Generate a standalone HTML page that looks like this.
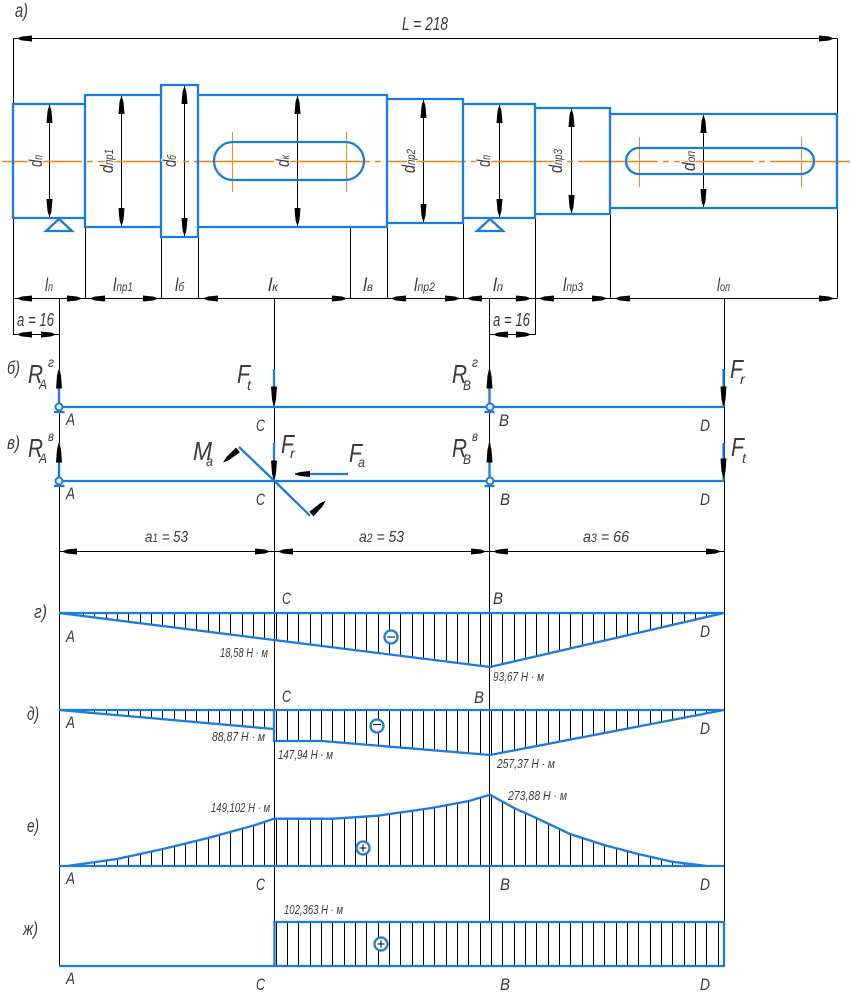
<!DOCTYPE html>
<html><head><meta charset="utf-8"><style>
html,body{margin:0;padding:0;background:#fff}
svg{display:block}
text{font-family:"Liberation Sans","DejaVu Sans",sans-serif;font-style:italic;fill:#3a3a3a}
.b{fill:none;stroke:#1a7be0;stroke-width:2.300}
.k{fill:none;stroke:#000;stroke-width:1}
.o{fill:none;stroke:#f08c1c;stroke-width:1}
.r text,text.r{paint-order:stroke;stroke:#fff;stroke-width:2.500px}
</style></head><body>
<svg xmlns="http://www.w3.org/2000/svg" width="851" height="997" viewBox="0 0 851 997">
<defs>
<path id="a" d="M0 0L3 -1.300L5 -2L15 -3V3L5 2L3 1.300Z" fill="#000"/>
<path id="h" d="M72.500 600V980M83.500 600V980M94.500 600V980M106.500 600V980M117.500 600V980M128.500 600V980M140.500 600V980M151.500 600V980M162.500 600V980M174.500 600V980M185.500 600V980M196.500 600V980M208.500 600V980M219.500 600V980M230.500 600V980M242.500 600V980M253.500 600V980M264.500 600V980M276.500 600V980M287.500 600V980M298.500 600V980M310.500 600V980M321.500 600V980M332.500 600V980M344.500 600V980M355.500 600V980M366.500 600V980M378.500 600V980M389.500 600V980M400.500 600V980M412.500 600V980M423.500 600V980M434.500 600V980M446.500 600V980M457.500 600V980M468.500 600V980M480.500 600V980M491.500 600V980M502.500 600V980M514.500 600V980M525.500 600V980M536.500 600V980M548.500 600V980M559.500 600V980M570.500 600V980M582.500 600V980M593.500 600V980M604.500 600V980M616.500 600V980M627.500 600V980M638.500 600V980M650.500 600V980M661.500 600V980M672.500 600V980M684.500 600V980M695.500 600V980M706.500 600V980M718.500 600V980" stroke="#000" stroke-width="1" fill="none"/>
<clipPath id="c1"><polygon points="59,613 724,613 489.500,667 274,640"/></clipPath>
<clipPath id="c2"><polygon points="59,710 724,710 490,755 322,741 274,741 274,729"/></clipPath>
<clipPath id="c3"><polygon points="67,866 117,859 163,849 208,838 253,825.700 274,818.700 333,818.700 378,815.700 430,808.300 469,801 490,794.700 514,808 537,818.300 570,834 604,845 638,854 672,861.700 707,866"/></clipPath>
<clipPath id="c4"><rect x="274" y="922" width="450" height="44"/></clipPath>
</defs>

<!-- hatching -->
<use href="#h" clip-path="url(#c1)"/>
<use href="#h" clip-path="url(#c2)"/>
<use href="#h" clip-path="url(#c3)"/>
<use href="#h" clip-path="url(#c4)"/>

<!-- black dimension / extension lines -->
<path class="k" d="M13.500 38.500H837.500M13.500 38.500V104M837.500 38.500V114M13.500 298.500H837.500M13.500 218V334.500H59.500M85.500 227V298M161.500 237V298M198.500 237V298M350.500 227V298M387.500 227V298M463.500 223V298M535.500 218V334.500H489.500M610.500 214V298M837.500 208V298"/>
<path class="k" d="M59.500 298V966M274.500 298V966M489.500 298V922M724.500 298V966M59.500 551.500H724.500"/>
<path class="k" d="M49.500 104V218M121.500 95V227M184.500 85V237M297.500 95V227M423.500 99V223M499.500 104V218M571.500 108V214M703.500 114V208"/>

<!-- centerline -->
<path d="M2 161.500H851" fill="none" stroke="#f5820a" stroke-width="1.500" stroke-dasharray="80 5 6 5"/>
<path class="o" d="M232.500 132V192M346.500 132V192M639.500 137V187M801.500 137V187"/>

<!-- shaft -->
<path class="b" d="M13 104H85V218H13ZM85 95H161V227H85ZM161 85H198V237H161ZM198 95H387V227H198ZM387 99H463V223H387ZM463 104H535V218H463ZM535 108H610V214H535ZM610 114H837V208H610Z"/>
<path class="b" d="M233 142H345A19 19 0 0 1 345 180H233A19 19 0 0 1 233 142Z"/>
<path class="b" d="M639 148H801A13 13 0 0 1 801 174H639A13 13 0 0 1 639 148Z"/>
<path class="b" d="M59 219L72 231H46ZM490 219L503 231H477Z"/>

<!-- beams -->
<path class="b" d="M59 407H724M59 481H724M59 370V407M274 369V407M489.500 370V407M723.500 369V407M59 443V481M274 443V481M489.500 443V481M723.500 443V481M295 474H348M239 447L274.500 481L310 515.700"/>
<path class="b" d="M54 412H64.500M484.500 412H494.500M54 486H64.500M484.500 486H494.500"/>
<circle cx="59" cy="407" r="3.500" fill="#fff" stroke="#1a7be0" stroke-width="2"/>
<circle cx="490" cy="407" r="3.500" fill="#fff" stroke="#1a7be0" stroke-width="2"/>
<circle cx="59" cy="481" r="3.500" fill="#fff" stroke="#1a7be0" stroke-width="2"/>
<circle cx="490" cy="481" r="3.500" fill="#fff" stroke="#1a7be0" stroke-width="2"/>

<!-- diagrams -->
<path class="b" d="M59 613H724L490 667L274 640L59 613"/>
<path class="b" d="M59 710H724L490 755L322 741H274V729L59 710M274 710V741"/>
<path class="b" d="M59 866H724M67 866L117 859L163 849L208 838L253 825.700L274 818.700H333L378 815.700L430 808.300L469 801L490 794.700L514 808L537 818.300L570 834L604 845L638 854L672 861.700L707 866"/>
<path class="b" d="M59 966H724V922H274.500V966"/>

<!-- sign circles -->
<g fill="#fff" stroke="#1a7be0" stroke-width="2.300">
<circle cx="391" cy="637" r="6.500"/><circle cx="377" cy="726" r="6.500"/><circle cx="363" cy="848" r="6.500"/><circle cx="381" cy="944" r="6.500"/>
</g>
<path class="k" d="M387 637H395M373 724.500H381M359.500 848H366.500M363 844.500V851.500M377.500 944H384.500M381 940.500V947.500"/>

<!-- arrowheads: horizontal, pointing left -->
<use href="#a" x="17" y="38.500"/>
<use href="#a" x="17" y="298.500"/><use href="#a" x="90" y="298.500"/><use href="#a" x="203" y="298.500"/><use href="#a" x="391" y="298.500"/><use href="#a" x="467" y="298.500"/><use href="#a" x="539" y="298.500"/><use href="#a" x="615" y="298.500"/>
<use href="#a" x="17" y="334.500"/><use href="#a" x="493" y="334.500"/>
<use href="#a" x="62" y="551.500"/><use href="#a" x="278" y="551.500"/><use href="#a" x="493" y="551.500"/>
<use href="#a" x="295" y="474"/>
<!-- horizontal, pointing right -->
<g transform="translate(834 38.500) rotate(180)"><use href="#a"/></g>
<g transform="translate(82 298.500) rotate(180)"><use href="#a"/></g>
<g transform="translate(158 298.500) rotate(180)"><use href="#a"/></g>
<g transform="translate(347 298.500) rotate(180)"><use href="#a"/></g>
<g transform="translate(460 298.500) rotate(180)"><use href="#a"/></g>
<g transform="translate(531 298.500) rotate(180)"><use href="#a"/></g>
<g transform="translate(607 298.500) rotate(180)"><use href="#a"/></g>
<g transform="translate(834 298.500) rotate(180)"><use href="#a"/></g>
<g transform="translate(56 334.500) rotate(180)"><use href="#a"/></g>
<g transform="translate(531 334.500) rotate(180)"><use href="#a"/></g>
<g transform="translate(270 551.500) rotate(180)"><use href="#a"/></g>
<g transform="translate(486 551.500) rotate(180)"><use href="#a"/></g>
<g transform="translate(721 551.500) rotate(180)"><use href="#a"/></g>
<!-- vertical dimension arrows: up then down -->
<g transform="translate(49.500 105) rotate(90) scale(1.200 1)"><use href="#a"/></g><g transform="translate(49.500 217) rotate(-90) scale(1.200 1)"><use href="#a"/></g>
<g transform="translate(121.500 96) rotate(90) scale(1.200 1)"><use href="#a"/></g><g transform="translate(121.500 226) rotate(-90) scale(1.200 1)"><use href="#a"/></g>
<g transform="translate(184.500 86) rotate(90) scale(1.200 1)"><use href="#a"/></g><g transform="translate(184.500 236) rotate(-90) scale(1.200 1)"><use href="#a"/></g>
<g transform="translate(297.500 96) rotate(90) scale(1.200 1)"><use href="#a"/></g><g transform="translate(297.500 226) rotate(-90) scale(1.200 1)"><use href="#a"/></g>
<g transform="translate(423.500 100) rotate(90) scale(1.200 1)"><use href="#a"/></g><g transform="translate(423.500 222) rotate(-90) scale(1.200 1)"><use href="#a"/></g>
<g transform="translate(499.500 105) rotate(90) scale(1.200 1)"><use href="#a"/></g><g transform="translate(499.500 217) rotate(-90) scale(1.200 1)"><use href="#a"/></g>
<g transform="translate(571.500 109) rotate(90) scale(1.200 1)"><use href="#a"/></g><g transform="translate(571.500 213) rotate(-90) scale(1.200 1)"><use href="#a"/></g>
<g transform="translate(703.500 115) rotate(90) scale(1.200 1)"><use href="#a"/></g><g transform="translate(703.500 207) rotate(-90) scale(1.200 1)"><use href="#a"/></g>
<!-- force arrows -->
<g transform="translate(59 369) rotate(90) scale(1.300 1)"><use href="#a"/></g>
<g transform="translate(489.500 369) rotate(90) scale(1.300 1)"><use href="#a"/></g>
<g transform="translate(59 443) rotate(90) scale(1.300 1)"><use href="#a"/></g>
<g transform="translate(489.500 443) rotate(90) scale(1.300 1)"><use href="#a"/></g>
<g transform="translate(274 406) rotate(-90) scale(1.300 1)"><use href="#a"/></g>
<g transform="translate(723.500 406) rotate(-90) scale(1.300 1)"><use href="#a"/></g>
<g transform="translate(274 480) rotate(-90) scale(1.300 1)"><use href="#a"/></g>
<g transform="translate(723.500 478) rotate(-90) scale(1.300 1)"><use href="#a"/></g>
<g transform="translate(223 462.500) rotate(-40) scale(1.300 1)"><use href="#a"/></g>
<g transform="translate(325.700 500.700) rotate(137) scale(1.300 1)"><use href="#a"/></g>

<!-- section labels -->
<text x="15" y="17" font-size="19" textLength="13" lengthAdjust="spacingAndGlyphs">а)</text>
<text x="7" y="374" font-size="18" textLength="13" lengthAdjust="spacingAndGlyphs">б)</text>
<text x="7" y="449" font-size="18" textLength="13" lengthAdjust="spacingAndGlyphs">в)</text>
<text x="34" y="618" font-size="18" textLength="13" lengthAdjust="spacingAndGlyphs">г)</text>
<text x="27" y="720" font-size="18" textLength="12" lengthAdjust="spacingAndGlyphs">д)</text>
<text x="27" y="832" font-size="18" textLength="12" lengthAdjust="spacingAndGlyphs">е)</text>
<text x="23" y="935" font-size="18" textLength="15" lengthAdjust="spacingAndGlyphs">ж)</text>

<!-- dimensions text -->
<text x="402" y="30" font-size="18" textLength="46" lengthAdjust="spacingAndGlyphs">L = 218</text>
<text x="17" y="326" font-size="18" textLength="37" lengthAdjust="spacingAndGlyphs">а = 16</text>
<text x="493" y="326" font-size="18" textLength="37" lengthAdjust="spacingAndGlyphs">а = 16</text>
<text x="145" y="542" font-size="16" textLength="43" lengthAdjust="spacingAndGlyphs">а<tspan font-size="12">1</tspan> = 53</text>
<text x="359" y="542" font-size="16" textLength="45" lengthAdjust="spacingAndGlyphs">а<tspan font-size="12">2</tspan> = 53</text>
<text x="583" y="542" font-size="16" textLength="46" lengthAdjust="spacingAndGlyphs">а<tspan font-size="12">3</tspan> = 66</text>

<g font-size="18">
<text x="45" y="291" textLength="8" lengthAdjust="spacingAndGlyphs">l<tspan font-size="12">п</tspan></text>
<text x="113" y="291" textLength="20" lengthAdjust="spacingAndGlyphs">l<tspan font-size="12">пр1</tspan></text>
<text x="175" y="291" textLength="9" lengthAdjust="spacingAndGlyphs">l<tspan font-size="12">б</tspan></text>
<text x="268" y="291" textLength="10" lengthAdjust="spacingAndGlyphs">l<tspan font-size="12">к</tspan></text>
<text x="363" y="291" textLength="10" lengthAdjust="spacingAndGlyphs">l<tspan font-size="12">в</tspan></text>
<text x="414" y="291" textLength="21" lengthAdjust="spacingAndGlyphs">l<tspan font-size="12">пр2</tspan></text>
<text x="493" y="291" textLength="10" lengthAdjust="spacingAndGlyphs">l<tspan font-size="12">п</tspan></text>
<text x="563" y="291" textLength="20" lengthAdjust="spacingAndGlyphs">l<tspan font-size="12">пр3</tspan></text>
<text x="717" y="291" textLength="13" lengthAdjust="spacingAndGlyphs">l<tspan font-size="12">оп</tspan></text>
</g>

<!-- rotated shaft labels -->
<g font-size="18" class="r">
<text transform="translate(42 167) rotate(-90)" textLength="12" lengthAdjust="spacingAndGlyphs">d<tspan font-size="12">п</tspan></text>
<text transform="translate(113 173) rotate(-90)" textLength="24" lengthAdjust="spacingAndGlyphs">d<tspan font-size="12">пр1</tspan></text>
<text transform="translate(176 167) rotate(-90)" textLength="12" lengthAdjust="spacingAndGlyphs">d<tspan font-size="12">б</tspan></text>
<text transform="translate(289 167) rotate(-90)" textLength="12" lengthAdjust="spacingAndGlyphs">d<tspan font-size="12">к</tspan></text>
<text transform="translate(415 173) rotate(-90)" textLength="24" lengthAdjust="spacingAndGlyphs">d<tspan font-size="12">пр2</tspan></text>
<text transform="translate(490 167) rotate(-90)" textLength="12" lengthAdjust="spacingAndGlyphs">d<tspan font-size="12">п</tspan></text>
<text transform="translate(562 173) rotate(-90)" textLength="24" lengthAdjust="spacingAndGlyphs">d<tspan font-size="12">пр3</tspan></text>
<text transform="translate(695 171) rotate(-90)" textLength="20" lengthAdjust="spacingAndGlyphs">d<tspan font-size="12">оп</tspan></text>
</g>

<!-- force labels -->
<g font-size="26">
<text x="28" y="383" textLength="15" lengthAdjust="spacingAndGlyphs">R</text>
<text x="28" y="457" textLength="15" lengthAdjust="spacingAndGlyphs">R</text>
<text x="452" y="383" textLength="15" lengthAdjust="spacingAndGlyphs">R</text>
<text x="452" y="457" textLength="15" lengthAdjust="spacingAndGlyphs">R</text>
<text x="237" y="383" textLength="13" lengthAdjust="spacingAndGlyphs">F</text>
<text x="281" y="453" textLength="13" lengthAdjust="spacingAndGlyphs">F</text>
<text x="349" y="462" textLength="13" lengthAdjust="spacingAndGlyphs">F</text>
<text x="730" y="378" textLength="13" lengthAdjust="spacingAndGlyphs">F</text>
<text x="731" y="456" textLength="13" lengthAdjust="spacingAndGlyphs">F</text>
<text x="193" y="460" textLength="19" lengthAdjust="spacingAndGlyphs">M</text>
</g>
<g font-size="14">
<text x="39" y="389" textLength="8" lengthAdjust="spacingAndGlyphs">A</text>
<text x="39" y="463" textLength="8" lengthAdjust="spacingAndGlyphs">A</text>
<text x="463" y="390" textLength="8" lengthAdjust="spacingAndGlyphs">B</text>
<text x="463" y="464" textLength="8" lengthAdjust="spacingAndGlyphs">B</text>
<text x="48" y="367" textLength="6" lengthAdjust="spacingAndGlyphs">г</text>
<text x="48" y="441" textLength="6" lengthAdjust="spacingAndGlyphs">в</text>
<text x="472" y="367" textLength="6" lengthAdjust="spacingAndGlyphs">г</text>
<text x="472" y="441" textLength="6" lengthAdjust="spacingAndGlyphs">в</text>
<text x="247" y="390" textLength="4" lengthAdjust="spacingAndGlyphs">t</text>
<text x="290" y="458" textLength="5" lengthAdjust="spacingAndGlyphs">r</text>
<text x="358" y="467" textLength="7" lengthAdjust="spacingAndGlyphs">a</text>
<text x="206" y="466" textLength="7" lengthAdjust="spacingAndGlyphs">a</text>
<text x="740" y="384" textLength="5" lengthAdjust="spacingAndGlyphs">r</text>
<text x="742" y="463" textLength="4" lengthAdjust="spacingAndGlyphs">t</text>
</g>

<!-- point labels -->
<g font-size="17">
<text x="66" y="425" textLength="9" lengthAdjust="spacingAndGlyphs">A</text>
<text x="66" y="499" textLength="9" lengthAdjust="spacingAndGlyphs">A</text>
<text x="66" y="642" textLength="9" lengthAdjust="spacingAndGlyphs">A</text>
<text x="66" y="728" textLength="9" lengthAdjust="spacingAndGlyphs">A</text>
<text x="66" y="884" textLength="9" lengthAdjust="spacingAndGlyphs">A</text>
<text x="66" y="984" textLength="9" lengthAdjust="spacingAndGlyphs">A</text>
<text x="256" y="431" textLength="9" lengthAdjust="spacingAndGlyphs">C</text>
<text x="256" y="505" textLength="9" lengthAdjust="spacingAndGlyphs">C</text>
<text x="282" y="604" textLength="9" lengthAdjust="spacingAndGlyphs">C</text>
<text x="282" y="702" textLength="9" lengthAdjust="spacingAndGlyphs">C</text>
<text x="256" y="890" textLength="9" lengthAdjust="spacingAndGlyphs">C</text>
<text x="256" y="990" textLength="9" lengthAdjust="spacingAndGlyphs">C</text>
<text x="499" y="426" textLength="10" lengthAdjust="spacingAndGlyphs">B</text>
<text x="500" y="505" textLength="10" lengthAdjust="spacingAndGlyphs">B</text>
<text x="493" y="604" textLength="10" lengthAdjust="spacingAndGlyphs">B</text>
<text x="474" y="703" textLength="10" lengthAdjust="spacingAndGlyphs">B</text>
<text x="500" y="890" textLength="10" lengthAdjust="spacingAndGlyphs">B</text>
<text x="500" y="990" textLength="10" lengthAdjust="spacingAndGlyphs">B</text>
<text x="700" y="431" textLength="10" lengthAdjust="spacingAndGlyphs">D</text>
<text x="700" y="505" textLength="10" lengthAdjust="spacingAndGlyphs">D</text>
<text x="700" y="637" textLength="10" lengthAdjust="spacingAndGlyphs">D</text>
<text x="700" y="734" textLength="10" lengthAdjust="spacingAndGlyphs">D</text>
<text x="700" y="890" textLength="10" lengthAdjust="spacingAndGlyphs">D</text>
<text x="700" y="990" textLength="10" lengthAdjust="spacingAndGlyphs">D</text>
</g>

<!-- values -->
<g font-size="13">
<text x="220" y="657" textLength="48" lengthAdjust="spacingAndGlyphs">18,58 Н · м</text>
<text x="493" y="681" textLength="51" lengthAdjust="spacingAndGlyphs">93,67 Н · м</text>
<text x="212" y="741" textLength="53" lengthAdjust="spacingAndGlyphs">88,87 Н · м</text>
<text x="278" y="759" textLength="55" lengthAdjust="spacingAndGlyphs">147,94 Н · м</text>
<text x="497" y="768" textLength="58" lengthAdjust="spacingAndGlyphs">257,37 Н · м</text>
<text x="211" y="812" textLength="59" lengthAdjust="spacingAndGlyphs">149,102 Н · м</text>
<text x="508" y="800" textLength="59" lengthAdjust="spacingAndGlyphs">273,88 Н · м</text>
<text x="284" y="914" textLength="59" lengthAdjust="spacingAndGlyphs">102,363 Н · м</text>
</g>
</svg>
</body></html>
